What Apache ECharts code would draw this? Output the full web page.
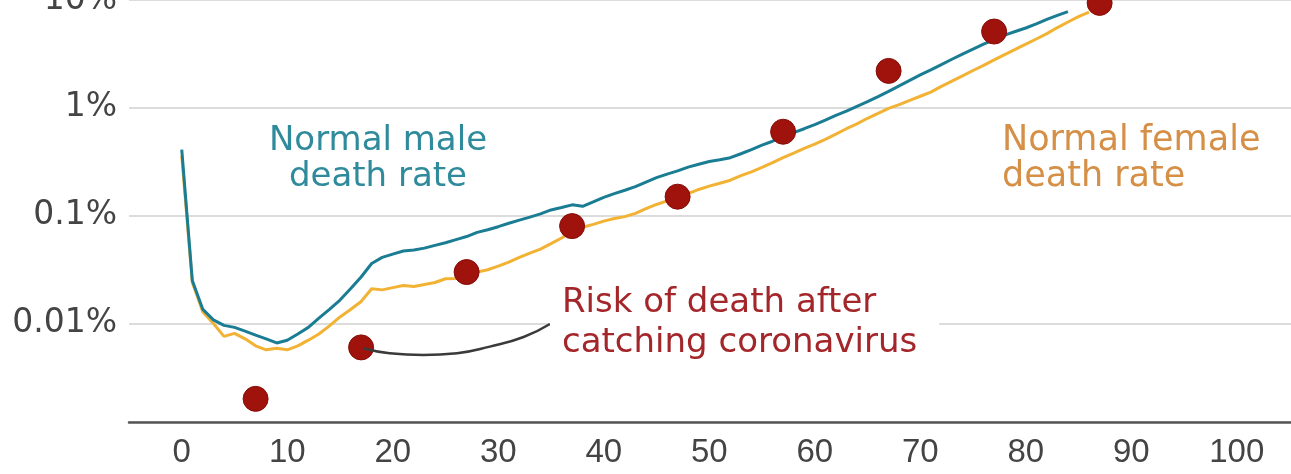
<!DOCTYPE html>
<html><head><meta charset="utf-8">
<script src="https://cdn.jsdelivr.net/npm/echarts@6/dist/echarts.min.js"></script>
<style>html,body{margin:0;padding:0;background:#fff}#c{width:1291px;height:474px}</style>
</head><body><div id="c"></div>
<script>
// Normal death rate (% per year) by single year of age, starting at age 0
const maleRate = [0.41, 0.025, 0.0135, 0.0108, 0.0096, 0.0092, 0.0085, 0.0078, 0.0072, 0.0066,
  0.0070, 0.0080, 0.0092, 0.0112, 0.0135, 0.0165, 0.021, 0.027, 0.036, 0.041,
  0.044, 0.047, 0.048, 0.050, 0.053, 0.056, 0.060, 0.064, 0.070, 0.074,
  0.079, 0.085, 0.091, 0.097, 0.104, 0.113, 0.119, 0.126, 0.122, 0.134,
  0.148, 0.160, 0.172, 0.186, 0.205, 0.225, 0.243, 0.260, 0.282, 0.300,
  0.318, 0.330, 0.345, 0.375, 0.41, 0.45, 0.49, 0.54, 0.59, 0.64,
  0.70, 0.77, 0.85, 0.93, 1.03, 1.14, 1.27, 1.42, 1.60, 1.80,
  2.02, 2.25, 2.52, 2.82, 3.15, 3.50, 3.90, 4.30, 4.72, 5.10,
  5.50, 6.00, 6.60, 7.20, 7.80];
const femaleRate = [0.36, 0.024, 0.0128, 0.0100, 0.0076, 0.0081, 0.0072, 0.0062, 0.0057, 0.0059,
  0.0057, 0.0062, 0.0070, 0.0080, 0.0095, 0.0115, 0.0135, 0.0160, 0.0210, 0.0205,
  0.0215, 0.0225, 0.0220, 0.0230, 0.0240, 0.0260, 0.0262, 0.0285, 0.0300, 0.0315,
  0.034, 0.037, 0.041, 0.045, 0.049, 0.055, 0.062, 0.071, 0.078, 0.083,
  0.089, 0.094, 0.098, 0.105, 0.116, 0.127, 0.137, 0.148, 0.160, 0.175,
  0.188, 0.200, 0.213, 0.235, 0.255, 0.280, 0.310, 0.345, 0.38, 0.42,
  0.46, 0.51, 0.57, 0.64, 0.71, 0.80, 0.89, 0.99, 1.07, 1.17,
  1.28, 1.40, 1.58, 1.77, 1.98, 2.22, 2.48, 2.78, 3.12, 3.48,
  3.90, 4.35, 4.88, 5.55, 6.25, 7.0, 7.7];
// Risk of death after catching coronavirus (%), by age band
const riskAges = [7, 17, 27, 37, 47, 57, 67, 77, 87];
const riskValues = [0.002, 0.006, 0.03, 0.08, 0.15, 0.6, 2.2, 5.1, 9.4];
// Annotation connector path (data space)
const connectorAges = [17.2, 19.7, 22.9, 26.1, 29.2, 32.4, 34.9];
const connectorValues = [0.0059, 0.0053, 0.0051, 0.0053, 0.0061, 0.0075, 0.0099];
// Axis ticks
const xTicks = [0, 10, 20, 30, 40, 50, 60, 70, 80, 90, 100];
const yTickLabels = {'-2': '0.01%', '-1': '0.1%', '0': '1%', '1': '10%'};

const byAge = arr => arr.map((v, i) => [i, v]);
const zip = (xs, ys) => xs.map((x, i) => [x, ys[i]]);

const chart = echarts.init(document.getElementById('c'), null, {renderer: 'canvas'});
chart.setOption({
  animation: false,
  backgroundColor: '#ffffff',
  grid: {left: 129, right: 0, top: 0, bottom: 52, containLabel: false, outerBoundsMode: 'none'},
  xAxis: {
    type: 'value', min: -5, max: 105.14, interval: 5,
    axisLine: {show: true, onZero: false, lineStyle: {color: '#555', width: 2.5}},
    axisTick: {show: false},
    splitLine: {show: false},
    axisLabel: {
      formatter: v => xTicks.some(t => Math.abs(t - v) < 1e-6) ? String(Math.round(v)) : '',
      fontSize: 33, color: '#444', fontFamily: 'Liberation Sans', margin: 14,
      showMinLabel: true, showMaxLabel: true, hideOverlap: false
    }
  },
  yAxis: {
    type: 'log', logBase: 10, min: 0.00122, max: 10,
    axisLine: {show: false}, axisTick: {show: false},
    splitLine: {show: true, lineStyle: {color: '#dcdcdc', width: 2}},
    axisLabel: {
      formatter: v => { const l = Math.log10(v); const r = Math.round(l);
        return Math.abs(l - r) < 0.01 && yTickLabels[String(r)] ? yTickLabels[String(r)] : ''; },
      fontSize: 33, color: '#444', fontFamily: 'DejaVu Sans', margin: 12, padding: [4, 0, 0, 0]
    }
  },
  series: [
    {type: 'line', data: byAge(femaleRate), symbol: 'none', z: 2,
     lineStyle: {color: '#f2b233', width: 3}},
    {type: 'line', data: byAge(maleRate), symbol: 'none', z: 3,
     lineStyle: {color: '#1a7d93', width: 3}},
    {type: 'scatter', data: zip(riskAges, riskValues), symbolSize: 25, z: 4,
     itemStyle: {color: '#a0120c', opacity: 1, borderColor: '#850c07', borderWidth: 1}},
    {type: 'line', data: zip(connectorAges, connectorValues), smooth: true, symbol: 'none', z: 5,
     lineStyle: {color: '#3a3a3a', width: 2.5}}
  ],
  graphic: [
    {type: 'text', x: 378, y: 123, z: 10, style: {text: 'Normal male\ndeath rate', fill: '#2f8b9b',
      font: '34px "DejaVu Sans"', align: 'center', verticalAlign: 'top', lineHeight: 36}},
    {type: 'text', x: 1002, y: 123, z: 10, style: {text: 'Normal female\ndeath rate', fill: '#d58f46',
      font: '35px "DejaVu Sans"', align: 'left', verticalAlign: 'top', lineHeight: 36}},
    {type: 'text', x: 550, y: 281, z: 10, style: {text: 'Risk of death after\ncatching coronavirus', fill: '#a3262a',
      font: '34px "DejaVu Sans"', align: 'left', verticalAlign: 'top', lineHeight: 40,
      backgroundColor: '#ffffff', padding: [2, 22, 4, 12]}}
  ]
});
</script>
</body></html>
